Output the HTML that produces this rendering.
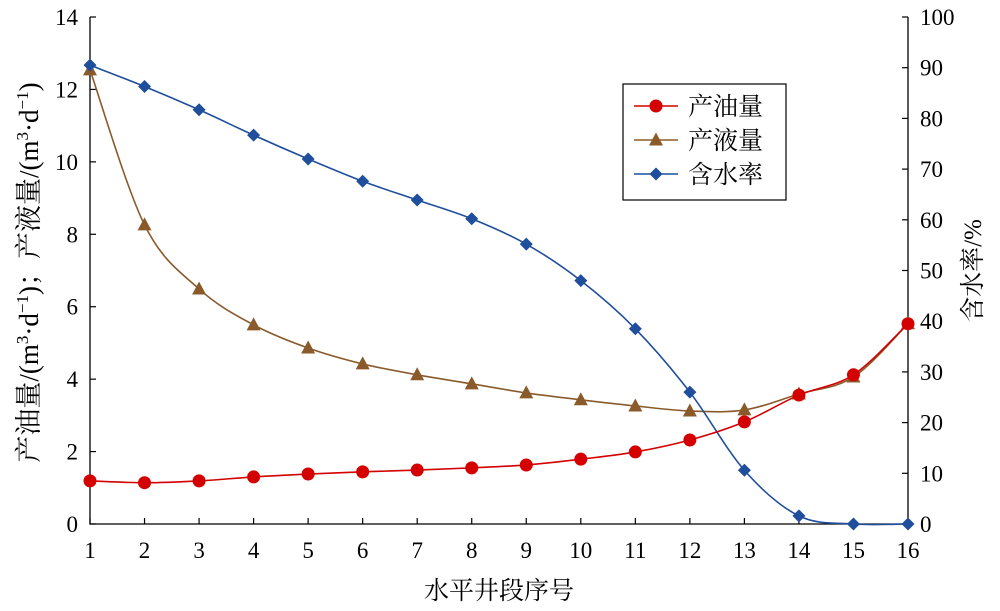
<!DOCTYPE html>
<html><head><meta charset="utf-8"><style>
html,body{margin:0;padding:0;background:#fff;}
svg{display:block;font-family:"Liberation Serif","Noto Serif CJK SC",serif;}
</style></head><body>
<svg id="c" width="1000" height="611" viewBox="0 0 1000 611"></svg>
<script>
const categories=[1,2,3,4,5,6,7,8,9,10,11,12,13,14,15,16];
const oilValues=[1.19,1.14,1.19,1.3,1.38,1.44,1.49,1.55,1.63,1.79,1.99,2.32,2.82,3.56,4.12,5.53];
const liquidValues=[12.54,8.26,6.49,5.5,4.86,4.42,4.12,3.87,3.62,3.43,3.26,3.12,3.15,3.59,4.06,5.53];
const waterValues=[90.5,86.3,81.7,76.7,72,67.6,63.9,60.2,55.2,48,38.5,26,10.6,1.6,0,0];
const leftTicks=[0,2,4,6,8,10,12,14];
const rightTicks=[0,10,20,30,40,50,60,70,80,90,100];

const L=90,R=908,T=17,B=524;
const xs=v=>L+(v-1)*(R-L)/15;
const yl=v=>B-v*(B-T)/14;
const yr=v=>B-v*(B-T)/100;
const svg=document.getElementById('c');
const NS='http://www.w3.org/2000/svg';
function mk(tag,attrs,parent){const e=document.createElementNS(NS,tag);for(const k in attrs)e.setAttribute(k,attrs[k]);(parent||svg).appendChild(e);return e;}

let ax=mk('path',{d:`M${L},${T}V${B}H${R}V${T}`,fill:'none',stroke:'#000','stroke-width':1.3});



categories.forEach(c=>{
  const x=xs(c);
  const t=mk('line',{x1:x,x2:x,y1:B,y2:B-6,stroke:'#000','stroke-width':1.2});
  
  
  const l=mk('text',{x:x,y:B+34,'font-size':23,'text-anchor':'middle'});
  l.textContent=c;
  
  
});
leftTicks.forEach(v=>{
  const y=yl(v);
  const t=mk('line',{x1:L,x2:L+6,y1:y,y2:y,stroke:'#000','stroke-width':1.2});
  
  
  const l=mk('text',{x:L-12,y:y+8,'font-size':23,'text-anchor':'end'});
  l.textContent=v;
  
  
});
rightTicks.forEach(v=>{
  const y=yr(v);
  const t=mk('line',{x1:R,x2:R-6,y1:y,y2:y,stroke:'#000','stroke-width':1.2});
  
  
  const l=mk('text',{x:R+12,y:y+8,'font-size':23,'text-anchor':'start'});
  l.textContent=v;
  
  
});

let xt=mk('text',{x:(L+R)/2,y:599,'font-size':25,'text-anchor':'middle'});
xt.textContent='水平井段序号';


let ylt=mk('text',{x:0,y:0,'font-size':27,'text-anchor':'middle',transform:`translate(38,${(T+B)/2+2}) rotate(-90)`});
ylt.innerHTML='产油量/(m<tspan font-size="17" dy="-10">3</tspan><tspan dy="10">·d</tspan><tspan font-size="17" dy="-10">−1</tspan><tspan dy="10">)；产液量/(m</tspan><tspan font-size="17" dy="-10">3</tspan><tspan dy="10">·d</tspan><tspan font-size="17" dy="-10">−1</tspan><tspan dy="10">)</tspan>';


let yrt=mk('text',{x:0,y:0,'font-size':25,'text-anchor':'middle',transform:`translate(981,${(T+B)/2}) rotate(-90)`});
yrt.textContent='含水率/%';



function spline(pts){
  let d=`M${pts[0][0]},${pts[0][1]}`;
  for(let i=0;i<pts.length-1;i++){
    const p0=pts[Math.max(i-1,0)],p1=pts[i],p2=pts[i+1],p3=pts[Math.min(i+2,pts.length-1)];
    const k=0.5/3;
    d+=` C${p1[0]+(p2[0]-p0[0])*k},${p1[1]+(p2[1]-p0[1])*k} ${p2[0]-(p3[0]-p1[0])*k},${p2[1]-(p3[1]-p1[1])*k} ${p2[0]},${p2[1]}`;
  }
  return d;
}
function marker(type,x,y,color,name){
  let m;
  if(type==='circle') m=mk('circle',{cx:x,cy:y,r:6.5,fill:'#d40000'});
  else if(type==='tri') m=mk('polygon',{points:`${x},${y-7.5} ${x+7},${y+5.5} ${x-7},${y+5.5}`,fill:'#8b5a2b'});
  else m=mk('polygon',{points:`${x},${y-6.5} ${x+6.5},${y} ${x},${y+6.5} ${x-6.5},${y}`,fill:'#1f4e9c'});
  
  
}
const series=[
  {vals:liquidValues,sc:yl,col:'#8b5a2b',type:'tri',name:'liquid'},
  {vals:waterValues,sc:yr,col:'#1f4e9c',type:'dia',name:'water-cut'},
  {vals:oilValues,sc:yl,col:'#d40000',type:'circle',name:'oil'}
];
series.forEach(s=>{
  const pts=categories.map((c,i)=>[xs(c),s.sc(s.vals[i])]);
  const p=mk('path',{d:spline(pts),fill:'none',stroke:s.col,'stroke-width':1.6});
  
  
  pts.forEach(pt=>marker(s.type,pt[0],pt[1],s.col,s.name+'-point'));
});

const lg=mk('g',{});


mk('rect',{x:623,y:84,width:163,height:116,fill:'#fff',stroke:'#000','stroke-width':1.2},lg);
[['产油量','#d40000','circle',106],['产液量','#8b5a2b','tri',140],['含水率','#1f4e9c','dia',174]].forEach(e=>{
  const g=mk('g',{},lg);
  
  
  mk('line',{x1:634,x2:678,y1:e[3],y2:e[3],stroke:e[1],'stroke-width':1.6},g);
  marker(e[2],656,e[3],e[1],'legend-marker');
  const t=mk('text',{x:688,y:e[3]+9,'font-size':25},g);
  t.textContent=e[0];
});
</script>
</body></html>
